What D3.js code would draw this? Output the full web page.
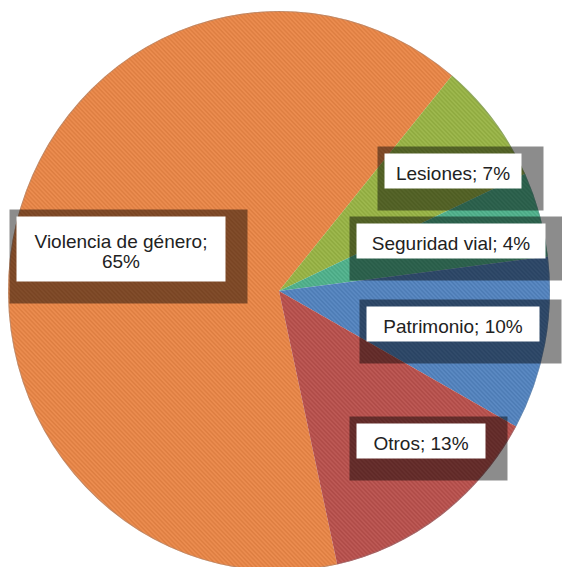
<!DOCTYPE html>
<html>
<head>
<meta charset="utf-8">
<script src="https://cdn.jsdelivr.net/npm/d3@7"></script>
<style>
  body { margin: 0; background: #fff; }
  svg { display: block; }
</style>
</head>
<body>
<script>
// data
var categories = ["Violencia de género", "Lesiones", "Seguridad vial", "Patrimonio", "Otros"];
var values = [64.4, 7.1, 4.9, 10.0, 13.5];
var pctLabels = ["65%", "7%", "4%", "10%", "13%"];
var colors = ["#ea8646", "#98b444", "#4fb28c", "#5283bf", "#b9504c"];

var width = 562, height = 567;
var cx = 279, cy = 291;
var radius = 271, yStretch = 280 / 271;

// label box centres (relative to pie centre) and box widths
var labelPos = [[-158, -42], [174, -120], [172, -50], [174, 33], [142, 150]];
var boxW = [209, 137, 189, 173, 129];

var svg = d3.select("body").append("svg")
    .attr("width", width)
    .attr("height", height);

var defs = svg.append("defs");
var pat = defs.append("pattern")
    .attr("id", "stripes")
    .attr("width", 3).attr("height", 3)
    .attr("patternUnits", "userSpaceOnUse")
    .attr("patternTransform", "rotate(45)");
pat.append("rect").attr("width", 3).attr("height", 1.2).attr("fill", "#000").attr("opacity", 0.06);
pat.append("rect").attr("y", 1.5).attr("width", 3).attr("height", 1.2).attr("fill", "#fff").attr("opacity", 0.06);

var start = 167.6 * Math.PI / 180;
var pie = d3.pie().sort(null).startAngle(start).endAngle(start + 2 * Math.PI);
var arcs = pie(values);

var arc = d3.arc().innerRadius(0).outerRadius(radius);

var pieG = svg.append("g")
    .attr("transform", "translate(" + cx + "," + cy + ") scale(1," + yStretch + ")");

pieG.selectAll("path.slice")
    .data(arcs)
    .enter().append("path")
    .attr("class", "slice")
    .attr("d", arc)
    .attr("fill", function(d, i) { return colors[i]; });

pieG.selectAll("path.tex")
    .data(arcs)
    .enter().append("path")
    .attr("class", "tex")
    .attr("d", arc)
    .attr("fill", "url(#stripes)");

pieG.append("circle")
    .attr("r", radius - 0.5)
    .attr("fill", "none")
    .attr("stroke", "#7f8f9f")
    .attr("stroke-opacity", 0.35)
    .attr("stroke-width", 1);

// labels
var labelG = svg.append("g").attr("transform", "translate(" + cx + "," + cy + ")");
var fontSize = 19;

categories.forEach(function(name, i) {
    var lines = i === 0 ? [name + ";", pctLabels[i]] : [name + "; " + pctLabels[i]];
    var g = labelG.append("g")
        .attr("transform", "translate(" + labelPos[i][0] + "," + labelPos[i][1] + ")");

    var bw = boxW[i];
    var bh = lines.length === 1 ? 35 : 65;

    g.append("rect")
        .attr("x", -bw / 2 - 7).attr("y", -bh / 2 - 7)
        .attr("width", bw + 29).attr("height", bh + 29)
        .attr("fill", "#000").attr("opacity", 0.45);
    g.append("rect")
        .attr("x", -bw / 2).attr("y", -bh / 2)
        .attr("width", bw).attr("height", bh)
        .attr("fill", "#fff");

    var txt = g.append("text")
        .attr("text-anchor", "middle")
        .attr("font-family", "'Liberation Sans', Arial, Helvetica, sans-serif")
        .attr("font-size", fontSize)
        .attr("fill", "#222");
    lines.forEach(function(l, j) {
        txt.append("tspan")
            .attr("x", 0)
            .attr("y", 8.5 + (j - (lines.length - 1) / 2) * 20)
            .text(l);
    });
});
</script>
</body>
</html>
